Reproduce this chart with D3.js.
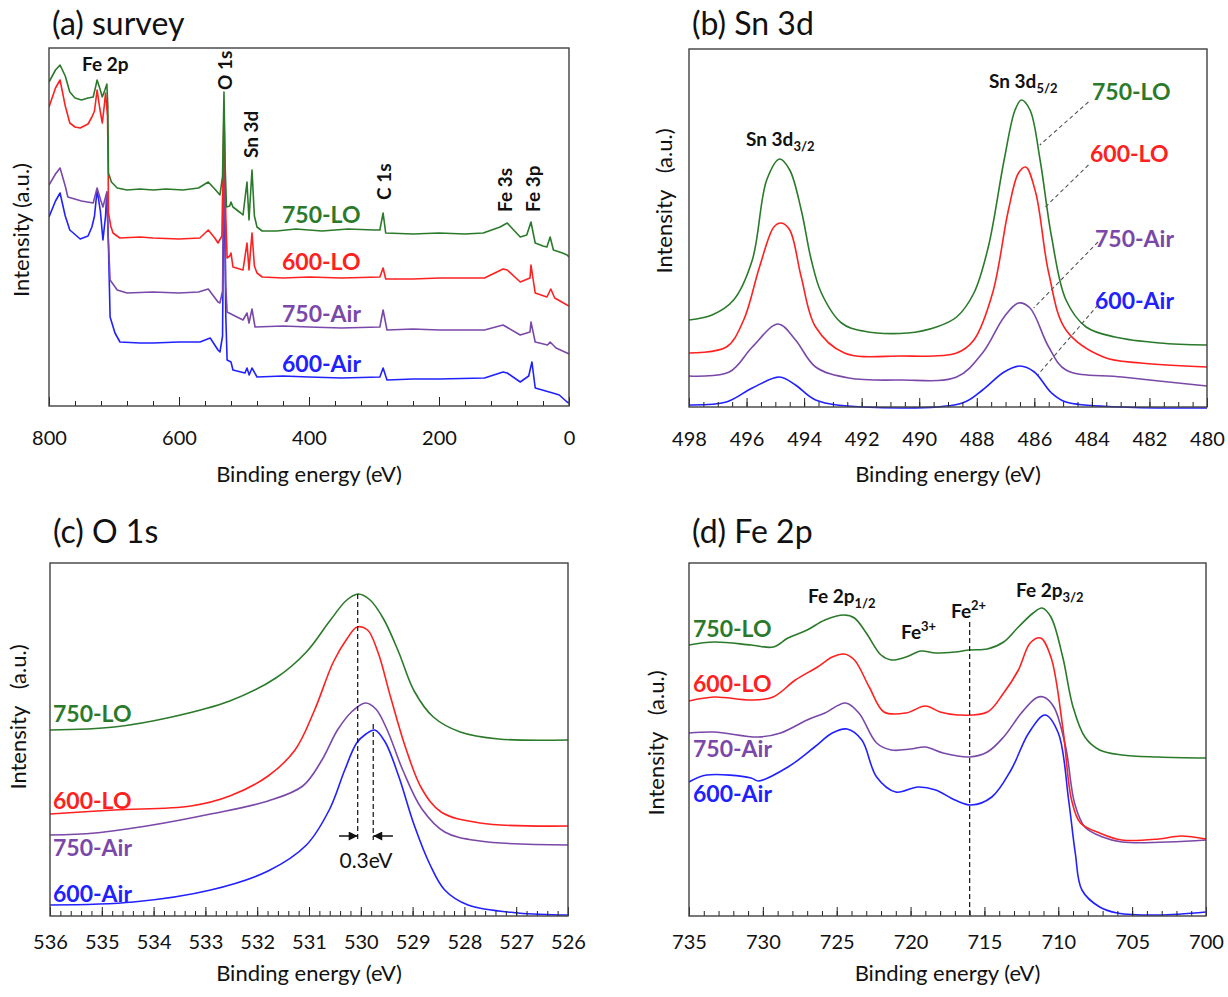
<!DOCTYPE html>
<html>
<head>
<meta charset="utf-8">
<script src="https://cdn.jsdelivr.net/npm/d3@7"></script>
<style>
body { margin: 0; background: #fff; }
svg text { font-family: Lato, "Open Sans", sans-serif; fill: #111; }
</style>
</head>
<body>
<svg id="chart" width="1228" height="997"></svg>
<script>
// sample order and colours
const sampleNames = ["750-LO", "600-LO", "750-Air", "600-Air"];
const sampleColors = ["#2b7a2b", "#ff2020", "#7a48a8", "#2121ff"];

// (a) survey: [binding energy (eV), intensity (a.u., offset)]
const surveyLO750 = [[800,324],[790,336],[783,341],[775,330],[768,314],[760,308],[750,306],[740,308],[732,309],[728,320],[726,326],[722,318],[718,309],[714,316],[711,322],[709.5,300],[708.5,233],[704,224],[695,218],[680,216],[660,217],[640,216],[620,217],[594,216],[570,218],[555,224],[545,217],[537,211],[533,230],[530.8,314],[529,240],[527,199],[522,200],[520,204],[517,199],[505,193],[501.5,191],[495.4,224],[492.3,186],[487.7,236],[484,190],[480,179],[472,175],[450,175],[420,177],[380,175],[340,177],[300,176],[291,176],[286,193],[282,173],[240,172],[200,173],[160,172],[132,173],[106,179],[95,183],[88,178],[75,169],[65,171],[58.5,184],[52,163],[40,160],[34,159],[29,169],[24,156],[10,153],[3,151],[0,149]];
const surveyLO600 = [[800,299],[790,318],[783,326],[775,300],[768,283],[760,279],[752,278],[740,282],[734,289],[730,295],[726,316],[722,298],[718,283],[715,300],[713,313],[710,290],[709,240],[708.5,193],[705,180],[701.5,173],[691,168],[660,169],[640,168],[600,167],[568,168],[555,176],[545,168],[540,163],[534,170],[530.8,296],[528,190],[526,148],[522,150],[520,153],[517,139],[501.5,136],[495.4,163],[492.3,136],[487.7,173],[484,140],[480,133],[472,129],[440,128],[400,129],[350,128],[291,129],[286,138],[282,127],[240,127],[200,128],[130,128],[101.5,137],[95,136],[75,124],[60,128],[58.5,141],[52,113],[34,109],[28,117],[22,108],[3,101],[0,100]];
const surveyAir750 = [[800,221],[790,232],[783,238],[775,220],[771,209],[750,205],[732,203],[726,218],[720,205],[717,199],[711,214],[709,170],[706,126],[695,116],[680,113],[640,114],[600,113],[570,114],[555,117],[540,104],[537,103],[533,115],[530.8,262],[528,120],[526,94],[520,92],[501.5,86],[495.4,93],[492.3,83],[487.7,97],[483,79],[440,80],[400,79],[350,78],[291,79],[286,96],[280,76],[240,77],[200,76],[130,76],[101.5,81],[75,71],[60,74],[58.5,84],[52,64],[33,61],[29,64],[20,58],[3,53],[0,52]];
const surveyAir600 = [[800,189],[790,205],[783,213],[775,190],[768,176],[752,167],[740,170],[734,179],[730,190],[726,216],[721,195],[717,166],[713,190],[711,214],[708.5,160],[706,89],[698.5,73],[690.8,64],[660,63],[640,63],[600,64],[567.7,64],[552,68],[540,56],[537,54],[533,70],[530.8,250],[528,90],[526,46],[520,44],[517,36],[498.5,33],[495.4,38],[492,31],[487.7,38],[480,29],[440,30],[400,29],[350,28],[291,29],[286,38],[280,26],[240,27],[200,27],[130,28],[101.5,34],[95,33],[75,24],[62,30],[57,44],[52,18],[25,13],[15,11],[3,4],[0,3]];

// (b) Sn 3d
const sn3dLO750 = [[498,87],[497.2,92],[496.45,107],[495.8,147],[495.3,227],[494.85,248],[494.5,237],[494.1,197],[493.75,147],[493.4,114],[492.7,84],[491.95,76],[490.4,74],[489.4,80],[488.7,90],[488.1,114],[487.6,160],[487.05,247],[486.67,297],[486.45,307],[486.15,297],[485.8,247],[485.4,170],[484.9,107],[484.2,80],[483.2,70],[481.65,64],[480,62]];
const sn3dLO600 = [[498,54],[496.7,60],[496.1,87],[495.55,140],[495.05,180],[494.8,184],[494.5,177],[494.1,130],[493.6,80],[492.6,54],[490.65,51],[488.7,54],[488.1,67],[487.45,114],[486.9,197],[486.55,234],[486.3,240],[485.95,214],[485.5,134],[484.9,77],[483.6,50],[482.3,44],[480,40]];
const sn3dAir750 = [[498,31],[496.6,35],[495.8,60],[494.9,83],[494.3,67],[493.6,40],[492.45,29],[490.65,27],[488.7,30],[487.8,54],[487.05,90],[486.55,104],[486.15,99],[485.5,60],[484.9,37],[482.95,30],[480,21]];
const sn3dAir600 = [[498,2],[496.7,5],[495.8,19],[494.85,30],[494.3,22],[493.6,7],[491.95,0],[488.5,4],[487.8,17],[487.05,35],[486.5,41],[486.0,35],[485.4,14],[484.9,5],[482.95,0],[480,-1]];

// (c) O 1s
const o1sLO750 = [[536,186],[534.76,189],[533.65,199],[532.53,215],[531.64,238],[531.05,264],[530.6,295],[530.27,316],[530.05,322],[529.82,316],[529.56,297],[529.27,264],[528.97,225],[528.6,199],[528.08,184],[527.34,177],[526,176]];
const o1sLO600 = [[536,102],[534.76,106],[533.28,110],[532.53,120],[531.79,140],[531.27,166],[530.9,205],[530.53,254],[530.27,277],[530.07,289],[529.87,286],[529.67,264],[529.42,218],[529.12,166],[528.82,127],[528.45,104],[527.7,93],[526,90]];
const o1sAir750 = [[536,81],[535.13,83],[534.02,91],[532.9,102],[531.79,115],[531.12,130],[530.75,156],[530.45,186],[530.16,205],[529.91,213],[529.71,207],[529.49,186],[529.19,146],[528.82,107],[528.38,84],[527.7,75],[526,71]];
const o1sAir600 = [[536,11],[534.39,14],[532.9,26],[531.79,45],[531.05,71],[530.6,107],[530.31,146],[530.08,173],[529.9,182],[529.73,186],[529.53,174],[529.27,140],[528.97,91],[528.67,52],[528.38,26],[527.93,11],[526.96,3],[526,1]];

// (d) Fe 2p
const fe2pLO750 = [[735,271],[733.3,274],[730.8,271],[729.3,269],[728.3,278],[727,286],[725.8,296],[724.5,301],[723.8,298],[723,283],[722,261],[721.3,256],[720.3,259],[719.3,265],[718.3,263],[717,264],[716,266],[714.8,267],[713.7,274],[712.7,289],[711.7,303],[711.1,308],[710.5,299],[709.7,259],[709,209],[708.2,179],[707.2,166],[705.7,161],[703.2,159],[700,158]];
const fe2pLO600 = [[735,215],[733.3,219],[730.8,216],[729.3,219],[727.8,236],[726.3,249],[725.3,259],[724.5,262],[723.8,256],[722.8,229],[721.8,204],[720.3,203],[719,210],[718,204],[716.8,201],[714.8,204],[713.7,223],[712.7,246],[711.9,273],[711.2,278],[710.5,259],[709.7,189],[709.1,116],[708.5,93],[707.2,83],[705.7,76],[703.2,77],[701.7,80],[700,77]];
const fe2pAir750 = [[735,183],[733.3,184],[730.3,179],[728.8,183],[727,196],[725.8,203],[724.4,213],[723.5,203],[722.3,173],[721.3,166],[720,167],[719,169],[717.8,163],[716,159],[714.8,164],[713.7,179],[712.5,203],[711.5,218],[711,219],[710.3,209],[709.5,169],[708.9,113],[708.2,89],[707,79],[705.7,74],[700,76]];
const fe2pAir600 = [[735,134],[733.8,141],[730.8,138],[730.3,135],[728.3,149],[726.5,169],[725.3,183],[724.3,187],[723.3,176],[722.3,139],[721,124],[719.5,129],[718.3,126],[717,116],[715.9,111],[714.5,119],[713.2,146],[712,183],[710.9,201],[710,183],[709.3,116],[708.85,63],[708.4,26],[707.2,9],[706,3],[703.2,1],[700,4]];

// tick labels
const surveyTicks = [800, 600, 400, 200, 0];
const sn3dTicks = [498, 496, 494, 492, 490, 488, 486, 484, 482, 480];
const o1sTicks = [536, 535, 534, 533, 532, 531, 530, 529, 528, 527, 526];
const fe2pTicks = [735, 730, 725, 720, 715, 710, 705, 700];

// peak markers (eV)
const surveyPeakNames = ["O 1s", "Sn 3d", "C 1s", "Fe 3s", "Fe 3p"];
const surveyPeakEnergies = [530, 489, 285, 98, 55];

const svg = d3.select("#chart");
const defs = svg.append("defs");
defs.append("marker")
    .attr("id", "arrowhead")
    .attr("viewBox", "0 0 10 10")
    .attr("refX", 10).attr("refY", 5)
    .attr("markerUnits", "userSpaceOnUse")
    .attr("markerWidth", 11).attr("markerHeight", 9)
    .attr("orient", "auto")
  .append("path")
    .attr("d", "M0,0 L10,5 L0,10 z")
    .attr("fill", "#111");

function drawPanel(p) {
    const g = svg.append("g").attr("transform", `translate(${p.left},${p.top})`);
    const x = d3.scaleLinear().domain(p.xDomain).range([0, p.width]);
    const y = d3.scaleLinear().domain(p.yDomain).range([p.height, 0]);

    defs.append("clipPath").attr("id", "clip-" + p.id)
      .append("rect").attr("width", p.width).attr("height", p.height + 2);

    const line = d3.line()
        .x(d => x(d[0]))
        .y(d => y(d[1]))
        .curve(p.curve);

    // draw blue first so green ends on top
    p.series.slice().reverse().forEach((s, k) => {
        const i = p.series.length - 1 - k;
        g.append("path")
            .datum(s)
            .attr("clip-path", `url(#clip-${p.id})`)
            .attr("fill", "none")
            .attr("stroke", sampleColors[i])
            .attr("stroke-width", 1.6)
            .attr("stroke-linejoin", "round")
            .attr("d", line);
    });

    // minor ticks, inward
    g.append("g")
        .attr("transform", `translate(0,${p.height})`)
        .call(d3.axisBottom(x).tickValues(p.minor).tickSize(-5).tickFormat(""))
        .call(a => a.select(".domain").remove())
        .call(a => a.selectAll("line").attr("stroke", "#222"));

    // major ticks with labels
    g.append("g")
        .attr("transform", `translate(0,${p.height})`)
        .call(d3.axisBottom(x).tickValues(p.ticks).tickSize(-9).tickPadding(p.labelPad).tickFormat(d3.format("d")))
        .attr("font-size", 20)
        .attr("font-family", "Lato, sans-serif")
        .call(a => a.select(".domain").remove())
        .call(a => a.selectAll("line").attr("stroke", "#222"))
        .call(a => a.selectAll("text").attr("fill", "#111"));

    // frame
    g.append("rect")
        .attr("width", p.width).attr("height", p.height)
        .attr("fill", "none")
        .attr("stroke", "#404040")
        .attr("stroke-width", 1.4);

    // panel title
    g.append("text")
        .attr("x", 3).attr("y", p.titleY)
        .attr("font-size", 32)
        .text(p.title);

    // axis titles
    g.append("text")
        .attr("x", p.width / 2).attr("y", p.xTitleY)
        .attr("text-anchor", "middle")
        .attr("font-size", 22)
        .text("Binding energy (eV)");

    g.append("text")
        .attr("transform", `translate(${p.yTitleX},${p.yTitleMid}) rotate(-90)`)
        .attr("text-anchor", "middle")
        .attr("font-size", 22)
        .style("white-space", "pre")
        .text(p.yTitle);

    // sample labels
    sampleNames.forEach((name, i) => {
        g.append("text")
            .attr("x", p.sampleX[i]).attr("y", p.sampleY[i])
            .attr("font-size", 23)
            .attr("font-weight", "bold")
            .style("fill", sampleColors[i])
            .text(name);
    });

    return { g, x, y };
}

function subLabel(g, xPos, yPos, main, small, shift, size) {
    const t = g.append("text")
        .attr("x", xPos).attr("y", yPos)
        .attr("font-size", size || 19)
        .attr("font-weight", "bold");
    t.append("tspan").text(main);
    t.append("tspan").attr("font-size", 13).attr("dy", shift).text(small);
    return t;
}

// (a) survey
const pa = drawPanel({
    id: "a", left: 49, top: 48, width: 520, height: 358,
    xDomain: [800, 0], yDomain: [0, 358],
    series: [surveyLO750, surveyLO600, surveyAir750, surveyAir600],
    curve: d3.curveLinear,
    ticks: surveyTicks, minor: d3.range(0, 801, 40), labelPad: 25,
    title: "(a) survey", titleY: -13,
    xTitleY: 434, yTitleX: -20, yTitleMid: 182, yTitle: "Intensity (a.u.)",
    sampleX: [233, 233, 233, 233], sampleY: [175, 222, 274, 324]
});
pa.g.append("text").attr("x", 33).attr("y", 23)
    .attr("font-size", 19).attr("font-weight", "bold").text("Fe 2p");
const surveyPeakLabelY = [42, 110, 152, 164, 164];
surveyPeakNames.forEach((name, i) => {
    pa.g.append("text")
        .attr("transform", `translate(${pa.x(surveyPeakEnergies[i]) + 7},${surveyPeakLabelY[i]}) rotate(-90)`)
        .attr("font-size", 19).attr("font-weight", "bold")
        .text(name);
});

// (b) Sn 3d
const pb = drawPanel({
    id: "b", left: 689, top: 49, width: 518, height: 358,
    xDomain: [498, 480], yDomain: [0, 358],
    series: [sn3dLO750, sn3dLO600, sn3dAir750, sn3dAir600],
    curve: d3.curveCatmullRom,
    ticks: sn3dTicks, minor: d3.range(480, 498.01, 0.5), labelPad: 25,
    title: "(b) Sn 3d", titleY: -14,
    xTitleY: 433, yTitleX: -17, yTitleMid: 152, yTitle: "Intensity   (a.u.)",
    sampleX: [403, 401, 406, 406], sampleY: [51, 113, 198, 260]
});
subLabel(pb.g, 57, 97, "Sn 3d", "3/2", 5);
subLabel(pb.g, 300, 39, "Sn 3d", "5/2", 5);

// leader lines from labels to Sn 3d5/2 peaks: [E1, I1, E2, I2]
const sn3dLeaders = [[484.12, 305, 485.81, 262], [484.12, 242, 485.62, 200], [483.79, 165, 486.02, 99], [483.79, 102, 485.88, 32]];
sn3dLeaders.forEach(l => {
    pb.g.append("line")
        .attr("x1", pb.x(l[0])).attr("y1", pb.y(l[1]))
        .attr("x2", pb.x(l[2])).attr("y2", pb.y(l[3]))
        .attr("stroke", "#555").attr("stroke-width", 1.1)
        .attr("stroke-dasharray", "4,3");
});

// (c) O 1s
const pc = drawPanel({
    id: "c", left: 50, top: 563, width: 518, height: 353,
    xDomain: [536, 526], yDomain: [0, 353],
    series: [o1sLO750, o1sLO600, o1sAir750, o1sAir600],
    curve: d3.curveCatmullRom,
    ticks: o1sTicks, minor: d3.range(526, 536.01, 0.2), labelPad: 19,
    title: "(c) O 1s", titleY: -20,
    xTitleY: 418, yTitleX: -24, yTitleMid: 154, yTitle: "Intensity   (a.u.)",
    sampleX: [3, 3, 3, 3], sampleY: [159, 246, 293, 339]
});
// peak positions: LO peak and Air peak
const o1sShiftE = [530.06, 529.76];
const o1sShiftTop = [322, 192];
o1sShiftE.forEach((e, i) => {
    pc.g.append("line")
        .attr("x1", pc.x(e)).attr("x2", pc.x(e))
        .attr("y1", pc.y(o1sShiftTop[i])).attr("y2", pc.y(76))
        .attr("stroke", "#111").attr("stroke-width", 1.2)
        .attr("stroke-dasharray", "5,3");
});
pc.g.append("line")
    .attr("x1", pc.x(530.42)).attr("x2", pc.x(o1sShiftE[0]))
    .attr("y1", pc.y(80)).attr("y2", pc.y(80))
    .attr("stroke", "#111").attr("stroke-width", 1.5)
    .attr("marker-end", "url(#arrowhead)");
pc.g.append("line")
    .attr("x1", pc.x(529.38)).attr("x2", pc.x(o1sShiftE[1]))
    .attr("y1", pc.y(80)).attr("y2", pc.y(80))
    .attr("stroke", "#111").attr("stroke-width", 1.5)
    .attr("marker-end", "url(#arrowhead)");
pc.g.append("text")
    .attr("x", pc.x(529.9)).attr("y", pc.y(80) + 32)
    .attr("text-anchor", "middle")
    .attr("font-size", 21)
    .text("0.3eV");

// (d) Fe 2p
const pd = drawPanel({
    id: "d", left: 689, top: 563, width: 517, height: 353,
    xDomain: [735, 700], yDomain: [0, 353],
    series: [fe2pLO750, fe2pLO600, fe2pAir750, fe2pAir600],
    curve: d3.curveCatmullRom,
    ticks: fe2pTicks, minor: d3.range(700, 735.01, 1), labelPad: 19,
    title: "(d) Fe 2p", titleY: -20,
    xTitleY: 418, yTitleX: -25, yTitleMid: 180, yTitle: "Intensity   (a.u.)",
    sampleX: [4, 4, 4, 4], sampleY: [74, 129, 194, 239]
});
subLabel(pd.g, 119, 40, "Fe 2p", "1/2", 5);
subLabel(pd.g, 327, 34, "Fe 2p", "3/2", 5);
subLabel(pd.g, 212, 76, "Fe", "3+", -8);
subLabel(pd.g, 262, 55, "Fe", "2+", -8);
// Fe2+ satellite marker
const fe2Energy = 716;
pd.g.append("line")
    .attr("x1", pd.x(fe2Energy)).attr("x2", pd.x(fe2Energy))
    .attr("y1", pd.y(294)).attr("y2", pd.y(0))
    .attr("stroke", "#111").attr("stroke-width", 1.2)
    .attr("stroke-dasharray", "5,3");
</script>
</body>
</html>
